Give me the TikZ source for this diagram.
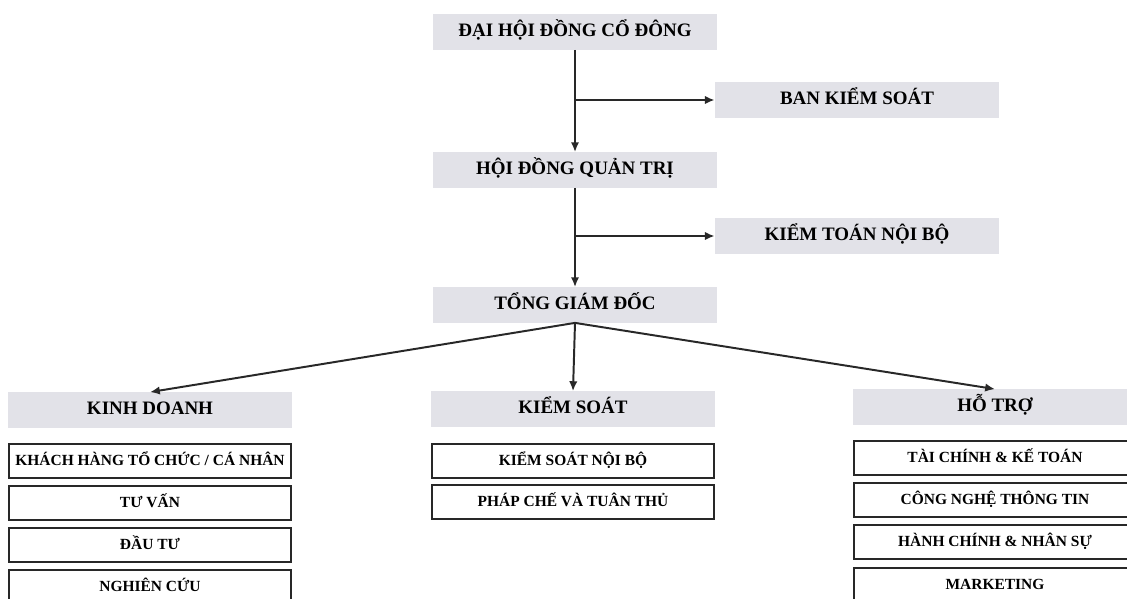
\documentclass[tikz,border=0pt]{standalone}
\usepackage{fontspec}
\setmainfont{Liberation Serif}
\usetikzlibrary{arrows.meta}
\definecolor{grisfondo}{RGB}{226,226,232}
\definecolor{linea}{RGB}{40,40,40}
\begin{document}
\begin{tikzpicture}[x=0.025cm, y=-0.025cm,
		gris/.style={fill=grisfondo, minimum width=7.1cm, minimum height=0.88cm, inner sep=0pt, font=\bfseries\fontsize{13.5}{16}\selectfont, text height=0.68em, text depth=0pt},
		caja/.style={draw=linea, line width=1.1pt, minimum width=7.05cm, minimum height=0.84cm, inner sep=0pt, font=\bfseries\fontsize{11}{13}\selectfont, text height=0.68em, text depth=0pt},
		flecha/.style={-{Latex[length=7pt,width=6pt]}, draw=linea, line width=1.4pt}]
	\useasboundingbox (0,0) rectangle (1127,599);
			% Cabeza
				\node[gris] (dhdcd) at (575,32) {ĐẠI HỘI ĐỒNG CỔ ĐÔNG};
				\node[gris] (bks) at (857,100) {BAN KIỂM SOÁT};
				\node[gris] (hdqt) at (575,170) {HỘI ĐỒNG QUẢN TRỊ};
				\node[gris] (ktnb) at (857,236) {KIỂM TOÁN NỘI BỘ};
				\node[gris] (tgd) at (575,305) {TỔNG GIÁM ĐỐC};

			% Flechas verticales
				\draw[flecha] (dhdcd) -- (hdqt);
				\draw[flecha] (hdqt) -- (tgd);
				\draw[flecha] (dhdcd.south |- bks.west) -- (bks.west);
				\draw[flecha] (hdqt.south |- ktnb.west) -- (ktnb.west);

			% Bloques
				\node[gris] (kd) at (150,410) {KINH DOANH};
				\node[gris] (ks) at (573,409) {KIỂM SOÁT};
				\node[gris] (ht) at (995,407) {HỖ TRỢ};
				\draw[flecha] (tgd.south) -- (kd.north);
				\draw[flecha] (tgd.south) -- (ks.north);
				\draw[flecha] (tgd.south) -- (ht.north);

			% Kinh doanh
				\node[caja] (kd1) at (150,461) {KHÁCH HÀNG TỔ CHỨC / CÁ NHÂN};
				\node[caja] (kd2) at (150,503) {TƯ VẤN};
				\node[caja] (kd3) at (150,545) {ĐẦU TƯ};
				\node[caja] (kd4) at (150,587) {NGHIÊN CỨU};

			% Kiem soat
				\node[caja] (ks1) at (573,461) {KIỂM SOÁT NỘI BỘ};
				\node[caja] (ks2) at (573,502) {PHÁP CHẾ VÀ TUÂN THỦ};

			% Ho tro
				\node[caja] (ht1) at (995,458) {TÀI CHÍNH \& KẾ TOÁN};
				\node[caja] (ht2) at (995,500) {CÔNG NGHỆ THÔNG TIN};
				\node[caja] (ht3) at (995,542) {HÀNH CHÍNH \& NHÂN SỰ};
				\node[caja] (ht4) at (995,585) {MARKETING};
\end{tikzpicture}
\end{document}
